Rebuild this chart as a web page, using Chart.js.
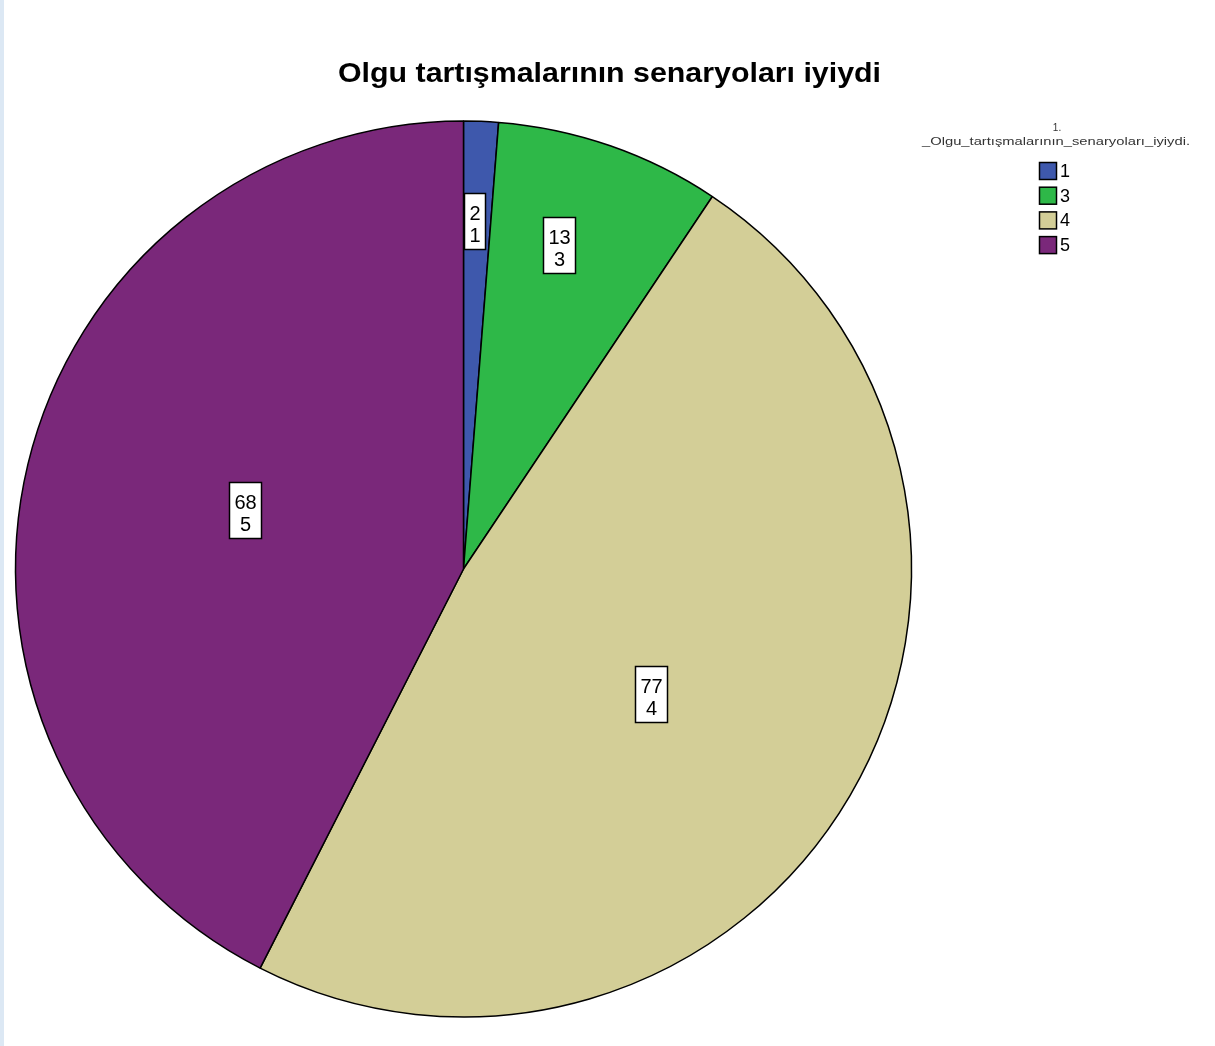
<!DOCTYPE html>
<html>
<head>
<meta charset="utf-8">
<script src="https://cdn.jsdelivr.net/npm/chart.js@4/dist/chart.umd.min.js"></script>
<style>
  html, body { margin: 0; padding: 0; background: #ffffff; }
  #wrap { position: absolute; left: 0; top: 0; width: 1215px; height: 1046px; background: #ffffff; }
  #strip { position: absolute; left: 0; top: 0; width: 4px; height: 1046px; background: #dce8f4; }
  canvas { position: absolute; left: 0; top: 0; }
</style>
</head>
<body>
<div id="wrap">
  <canvas id="c" width="1215" height="1046"></canvas>
  <div id="strip"></div>
</div>
<script>
const chartTitle = "Olgu tartışmalarının senaryoları iyiydi";
const legendTitle = ["1.", "_Olgu_tartışmalarının_senaryoları_iyiydi."];
const categories = ["1", "3", "4", "5"];
const counts = [2, 13, 77, 68];
const colors = ["#3e58ac", "#2eb848", "#d3ce97", "#7a287a"];
// label placement per slice: fraction of radius, fraction of the slice's angle
const labelRadius = [0.777, 0.754, 0.503, 0.505];
const labelAngle = [0.42, 0.41, 0.52, 0.51];

const FONT = "'Liberation Sans', Arial, sans-serif";

function fitText(ctx, text, cx, y, width) {
  const w = ctx.measureText(text).width;
  ctx.save();
  ctx.translate(cx, y);
  ctx.scale(width / w, 1);
  ctx.textAlign = "center";
  ctx.fillText(text, 0, 0);
  ctx.restore();
}

const overlay = {
  id: 'overlay',
  afterDatasetsDraw(chart) {
    const ctx = chart.ctx;
    const meta = chart.getDatasetMeta(0);
    ctx.save();
    // slice labels
    meta.data.forEach((arc, i) => {
      const p = arc.getProps(['x', 'y', 'startAngle', 'endAngle', 'outerRadius'], true);
      const ang = p.startAngle + (p.endAngle - p.startAngle) * labelAngle[i];
      const r = p.outerRadius * labelRadius[i];
      const cx = p.x + Math.cos(ang) * r;
      const cy = p.y + Math.sin(ang) * r;
      const lines = [String(counts[i]), String(categories[i])];
      ctx.font = "20px " + FONT;
      const w = Math.round(Math.max(...lines.map(l => ctx.measureText(l).width)) + 10);
      const h = 56;
      const bx = Math.round(cx - w / 2) + 0.5, by = Math.round(cy - h / 2) + 0.5;
      ctx.fillStyle = "#ffffff";
      ctx.fillRect(bx, by, w, h);
      ctx.strokeStyle = "#000000";
      ctx.lineWidth = 1.5;
      ctx.strokeRect(bx, by, w, h);
      ctx.fillStyle = "#000000";
      ctx.textAlign = "center";
      ctx.textBaseline = "alphabetic";
      ctx.fillText(lines[0], bx + w / 2, by + 26);
      ctx.fillText(lines[1], bx + w / 2, by + 48);
    });
    // title
    ctx.font = "bold 28px " + FONT;
    ctx.fillStyle = "#000000";
    ctx.textBaseline = "alphabetic";
    fitText(ctx, chartTitle, 609.5, 82, 543);
    // legend title
    ctx.font = "10px " + FONT;
    ctx.fillStyle = "#333333";
    ctx.textAlign = "center";
    ctx.fillText(legendTitle[0], 1057, 131);
    fitText(ctx, legendTitle[1], 1056, 145, 268);
    // legend items
    categories.forEach((cat, i) => {
      const y = 162 + i * 24.7;
      ctx.fillStyle = colors[i];
      ctx.fillRect(1039.5, y + 0.5, 17, 17);
      ctx.strokeStyle = "#000000";
      ctx.lineWidth = 1.5;
      ctx.strokeRect(1039.5, y + 0.5, 17, 17);
      ctx.fillStyle = "#000000";
      ctx.font = "18px " + FONT;
      ctx.textAlign = "left";
      ctx.textBaseline = "middle";
      ctx.fillText(cat, 1060, y + 10);
    });
    ctx.restore();
  }
};

new Chart(document.getElementById('c'), {
  type: 'pie',
  data: {
    labels: categories,
    datasets: [{
      data: counts,
      backgroundColor: colors,
      borderColor: "#000000",
      borderWidth: 1.5,
      radius: 448
    }]
  },
  options: {
    responsive: false,
    animation: false,
    layout: { padding: { left: 15, right: 303, top: 121, bottom: 29 } },
    plugins: {
      legend: { display: false },
      title: { display: false },
      tooltip: { enabled: false }
    }
  },
  plugins: [overlay]
});
</script>
</body>
</html>
